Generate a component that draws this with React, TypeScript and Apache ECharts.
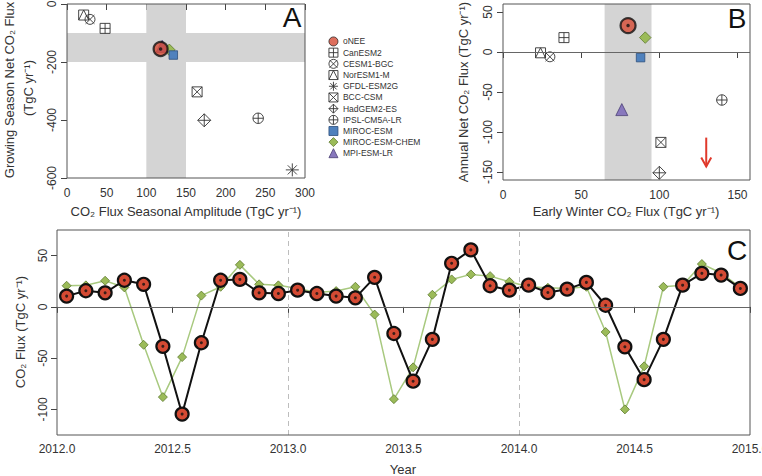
import React, { useEffect, useRef } from 'react';
import * as echarts from 'echarts';

// ---------------- DATA ----------------
const modelNames = ['CanESM2', 'CESM1-BGC', 'NorESM1-M', 'GFDL-ESM2G', 'BCC-CSM', 'HadGEM2-ES', 'IPSL-CM5A-LR', 'MIROC-ESM', 'MIROC-ESM-CHEM', 'MPI-ESM-LR'];
// Panel A
const seasonalAmplitude = [48, 29, 21, 284, 164, 173, 241, 134, 129, 120];
const growingSeasonNet = [-84, -53, -38, -572, -303, -401, -394, -176, -158, -146];
const oneeAmplitude = 118;
const oneeGrowingNet = -155;
const bandA_x = [100, 150];
const bandA_y = [-200, -100];
// Panel B
const earlyWinter: (number | null)[] = [39, 30, 24, null, 101, 100, 140, 88, 91, 76];
const annualNet: (number | null)[] = [18, -6, -1, null, -113, -151, -60, -7, 18, -72];
const oneeEarlyWinter = 80;
const oneeAnnualNet = 33;
const bandB_x = [65, 95];
const gfdlOffscaleArrow = [130, -107, -143]; // x, y from, y to
// Panel C
const cMonths = [
  '2012-01', '2012-02', '2012-03', '2012-04', '2012-05', '2012-06', '2012-07', '2012-08', '2012-09', '2012-10', '2012-11', '2012-12',
  '2013-01', '2013-02', '2013-03', '2013-04', '2013-05', '2013-06', '2013-07', '2013-08', '2013-09', '2013-10', '2013-11', '2013-12',
  '2014-01', '2014-02', '2014-03', '2014-04', '2014-05', '2014-06', '2014-07', '2014-08', '2014-09', '2014-10', '2014-11', '2014-12',
];
const cOnee = [10.5, 15.7, 13.7, 26, 22, -38.5, -104.6, -35, 26, 26.8, 13.7, 13, 16.3, 13, 10.5, 8.8, 28.8, -26, -72.5, -31.7, 42.5, 55.6, 20.6, 16.3, 21.2, 14, 17.3, 23.9, 1.6, -39, -71, -31.7, 21.2, 32.7, 31, 18];
const cChem = [20.6, 21, 25.5, 19, -37, -88, -49, 11, 19.6, 41, 22, 21, 18, 14, 15.4, 19.6, -7.5, -90, -59, 11.8, 26.8, 31.7, 30, 24.5, 19.6, 18.6, 18, 19.6, -24.5, -100, -58, 19.6, 21.2, 41.8, 33, 19];
const cYearDividers = [2013, 2014];
// ticks
const aXTicks = [0, 50, 100, 150, 200, 250, 300];
const aYTicks = [-600, -400, -200, 0];
const bXTicks = [0, 50, 100, 150];
const bYTicks = [-150, -100, -50, 0, 50];
const cXTicks = [2012, 2012.5, 2013, 2013.5, 2014, 2014.5, 2015];
const cYTicks = [-100, -50, 0, 50];
const legendNames = ['oNEE', ...modelNames];

// ---------------- STYLE ----------------
const FONT = '"Liberation Sans", Arial, Helvetica, sans-serif';
const RED = '#d44a33';
const OPEN = 'rgba(0,0,0,0)';
const INK = '#333';
const P = {
  squarePlus: 'path://M0,0L10,0L10,10L0,10Z M5,0L5,10 M0,5L10,5',
  circleX: 'path://M0,5A5,5 0 1,1 10,5A5,5 0 1,1 0,5Z M0.6,0.6L9.4,9.4 M9.4,0.6L0.6,9.4',
  squareTri: 'path://M0,0L10,0L10,10L0,10Z M0,10L5,0L10,10',
  asterisk: 'path://M5,0L5,10 M0,5L10,5 M1.5,1.5L8.5,8.5 M8.5,1.5L1.5,8.5',
  squareX: 'path://M0,0L10,0L10,10L0,10Z M0,0L10,10 M10,0L0,10',
  diamondPlus: 'path://M5,0L10,5L5,10L0,5Z M5,0L5,10 M0,5L10,5',
  circlePlus: 'path://M0,5A5,5 0 1,1 10,5A5,5 0 1,1 0,5Z M5,0L5,10 M0,5L10,5',
};
const modelStyle: Record<string, any> = {
  'CanESM2': { symbol: P.squarePlus, size: 10, color: OPEN, border: INK, bw: 0.9, z: 2 },
  'CESM1-BGC': { symbol: P.circleX, size: 10, color: OPEN, border: INK, bw: 0.9, z: 2 },
  'NorESM1-M': { symbol: P.squareTri, size: 10, color: OPEN, border: INK, bw: 0.9, z: 2 },
  'GFDL-ESM2G': { symbol: P.asterisk, size: 13, color: OPEN, border: INK, bw: 0.9, z: 2 },
  'BCC-CSM': { symbol: P.squareX, size: 10, color: OPEN, border: INK, bw: 0.9, z: 2 },
  'HadGEM2-ES': { symbol: P.diamondPlus, size: 13, color: OPEN, border: INK, bw: 0.9, z: 2 },
  'IPSL-CM5A-LR': { symbol: P.circlePlus, size: 10.5, color: OPEN, border: INK, bw: 0.9, z: 2 },
  'MIROC-ESM': { symbol: 'rect', size: 8.5, color: '#4f81bd', border: '#2d4f7c', bw: 0.8, z: 3 },
  'MIROC-ESM-CHEM': { symbol: 'diamond', size: 11.5, color: '#9bbb59', border: '#5e7a2e', bw: 0.8, z: 2 },
  'MPI-ESM-LR': { symbol: 'triangle', size: 12, color: '#8878bd', border: '#4a3f73', bw: 0.8, z: 2 },
};

const gA = { left: 67, top: 4, width: 238, height: 174 };
const gB = { left: 503, top: 4, width: 247, height: 176 };
const gC = { left: 57, top: 230, width: 693, height: 205 };

const toYear = (s: string) => {
  const [y, m] = s.split('-').map(Number);
  return y + (m - 0.5) / 12;
};

function axis(gridIndex: number, min: number, max: number, ticks: number[], isY: boolean, margin: number, fmt?: (v: number) => string) {
  return {
    type: 'value', gridIndex, min, max,
    axisLine: { show: false },
    splitLine: { show: false },
    axisTick: { show: true, length: 6, lineStyle: { color: '#444', width: 1 }, customValues: ticks },
    axisLabel: {
      customValues: ticks, margin, fontSize: 12, color: INK, fontFamily: FONT,
      rotate: isY ? 90 : 0,
      formatter: fmt ? (v: number) => fmt(v) : (v: number) => String(v),
      showMinLabel: true, showMaxLabel: true,
    },
  };
}

function buildOption() {
  const series: any[] = [];
  // Panel A bands
  series.push({
    type: 'scatter', name: 'bandA', xAxisIndex: 0, yAxisIndex: 0, data: [], z: 1, silent: true,
    markArea: {
      silent: true, itemStyle: { color: '#d4d4d4' },
      data: [[{ xAxis: bandA_x[0] }, { xAxis: bandA_x[1] }], [{ yAxis: bandA_y[0] }, { yAxis: bandA_y[1] }]],
    },
  });
  // Panel B band + zero line
  series.push({
    type: 'scatter', name: 'bandB', xAxisIndex: 1, yAxisIndex: 1, data: [], z: 1, silent: true,
    markArea: { silent: true, itemStyle: { color: '#d4d4d4' }, data: [[{ xAxis: bandB_x[0] }, { xAxis: bandB_x[1] }]] },
    markLine: { silent: true, symbol: 'none', label: { show: false }, lineStyle: { color: '#666', width: 1.2, type: 'solid' }, data: [{ yAxis: 0 }] },
  });
  // Panel C zero + dividers
  series.push({
    type: 'scatter', name: 'linesC', xAxisIndex: 2, yAxisIndex: 2, data: [], z: 1, silent: true,
    markLine: {
      silent: true, symbol: 'none', label: { show: false },
      data: [
        { yAxis: 0, lineStyle: { color: '#666', width: 1.2, type: 'solid' } },
        ...cYearDividers.map((y) => ({ xAxis: y, lineStyle: { color: '#bdbdbd', width: 1, type: [5, 4] } })),
      ],
    },
  });
  // models A and B
  modelNames.forEach((name, i) => {
    const st = modelStyle[name];
    const common = {
      type: 'scatter', name, symbol: st.symbol, symbolSize: st.size, z: st.z,
      itemStyle: { color: st.color, borderColor: st.border, borderWidth: st.bw, opacity: 1 },
      emphasis: { disabled: true },
    };
    series.push({ ...common, xAxisIndex: 0, yAxisIndex: 0, data: [[seasonalAmplitude[i], growingSeasonNet[i]]] });
    const bx = earlyWinter[i], by = annualNet[i];
    series.push({ ...common, xAxisIndex: 1, yAxisIndex: 1, data: bx != null && by != null ? [[bx, by]] : [] });
  });
  // oNEE A, B
  const oneeStyle = {
    type: 'scatter', name: 'oNEE', symbol: 'circle', symbolSize: 14, z: 5,
    itemStyle: { color: RED, borderColor: '#111', borderWidth: 2.2 }, emphasis: { disabled: true },
  };
  const dotStyle = { type: 'scatter', name: 'oNEE center', symbol: 'circle', symbolSize: 3.5, z: 6, itemStyle: { color: '#111' }, silent: true };
  series.push({ ...oneeStyle, xAxisIndex: 0, yAxisIndex: 0, data: [[oneeAmplitude, oneeGrowingNet]] });
  series.push({ ...dotStyle, xAxisIndex: 0, yAxisIndex: 0, data: [[oneeAmplitude, oneeGrowingNet]] });
  series.push({ ...oneeStyle, xAxisIndex: 1, yAxisIndex: 1, symbolSize: 15, data: [[oneeEarlyWinter, oneeAnnualNet]] });
  series.push({ ...dotStyle, xAxisIndex: 1, yAxisIndex: 1, data: [[oneeEarlyWinter, oneeAnnualNet]] });
  // GFDL off-scale arrow in B
  series.push({
    type: 'custom', name: 'gfdlArrow', xAxisIndex: 1, yAxisIndex: 1, z: 4, silent: true,
    data: [gfdlOffscaleArrow],
    renderItem: (_p: any, api: any) => {
      const a = api.coord([api.value(0), api.value(1)]);
      const b = api.coord([api.value(0), api.value(2)]);
      const col = '#e0392b';
      return {
        type: 'group',
        children: [
          { type: 'line', shape: { x1: a[0], y1: a[1], x2: b[0], y2: b[1] }, style: { stroke: col, lineWidth: 2 } },
          { type: 'polyline', shape: { points: [[b[0] - 5, b[1] - 9], [b[0], b[1]], [b[0] + 5, b[1] - 9]] }, style: { stroke: col, lineWidth: 2, fill: null } },
        ],
      };
    },
  });
  // Panel C
  const cx = cMonths.map(toYear);
  series.push({
    type: 'line', name: 'MIROC-ESM-CHEM', xAxisIndex: 2, yAxisIndex: 2, z: 2,
    data: cx.map((x, i) => [x, cChem[i]]),
    symbol: 'diamond', symbolSize: 9, showAllSymbol: true,
    lineStyle: { color: '#a8c97f', width: 1.5 },
    itemStyle: { color: '#9bbb59', borderColor: '#5e7a2e', borderWidth: 0.8 },
    emphasis: { disabled: true },
  });
  series.push({
    type: 'line', name: 'oNEE', xAxisIndex: 2, yAxisIndex: 2, z: 3,
    data: cx.map((x, i) => [x, cOnee[i]]),
    symbol: 'circle', symbolSize: 13, showAllSymbol: true,
    lineStyle: { color: '#111', width: 2 },
    itemStyle: { color: RED, borderColor: '#111', borderWidth: 2.2 },
    emphasis: { disabled: true },
  });
  series.push({ ...dotStyle, xAxisIndex: 2, yAxisIndex: 2, symbolSize: 3, data: cx.map((x, i) => [x, cOnee[i]]) });

  const frame = (g: any) => ({
    type: 'rect', z: 100, silent: true,
    shape: { x: g.left, y: g.top, width: g.width, height: g.height },
    style: { fill: null, stroke: '#555', lineWidth: 1 },
  });
  const txt = (text: string, x: number, y: number, opts: any = {}) => ({
    type: 'text', x, y, z: 100, silent: true, rotation: opts.rot || 0,
    style: { text, fontSize: opts.size || 13, fontFamily: FONT, fill: opts.fill || INK, align: 'center', verticalAlign: 'middle' },
  });

  return {
    animation: false,
    backgroundColor: '#fff',
    grid: [
      { ...gA, containLabel: false, outerBoundsMode: 'none' },
      { ...gB, containLabel: false, outerBoundsMode: 'none' },
      { ...gC, containLabel: false, outerBoundsMode: 'none' },
    ],
    xAxis: [
      axis(0, 0, 300, aXTicks, false, 9),
      axis(1, 0, 158, bXTicks, false, 9),
      axis(2, 2012, 2015, cXTicks, false, 8, (v) => v.toFixed(1)),
    ],
    yAxis: [
      axis(0, -600, 0, aYTicks, true, 9),
      axis(1, -160, 60, bYTicks, true, 9),
      axis(2, -125, 75, cYTicks, true, 8),
    ],
    legend: {
      orient: 'vertical', left: 328.5, top: 36.5, padding: 0,
      itemWidth: 9, itemHeight: 9, itemGap: 1.3, selectedMode: false,
      itemStyle: { borderWidth: 0.9 },
      textStyle: { fontSize: 8.5, color: INK, fontFamily: FONT },
      data: legendNames.map((n) => (n === 'oNEE' ? { name: n, itemStyle: { borderWidth: 0.9 } } : { name: n, itemStyle: { borderWidth: modelStyle[n].bw } })),
    },
    graphic: [
      frame(gA), frame(gB), frame(gC),
      txt('Growing Season Net CO\u2082 Flux', 9, 90, { rot: Math.PI / 2 }),
      txt('(TgC yr\u207B\u00B9)', 28, 88, { rot: Math.PI / 2 }),
      txt('CO\u2082 Flux Seasonal Amplitude (TgC yr\u207B\u00B9)', 186, 211),
      txt('Annual Net CO\u2082 Flux (TgC yr\u207B\u00B9)', 463, 92, { rot: Math.PI / 2 }),
      txt('Early Winter CO\u2082 Flux (TgC yr\u207B\u00B9)', 626, 211),
      txt('CO\u2082 Flux (TgC yr\u207B\u00B9)', 20, 332, { rot: Math.PI / 2 }),
      txt('Year', 403, 469),
      txt('A', 292, 17, { size: 28, fill: '#111' }),
      txt('B', 737, 18, { size: 28, fill: '#111' }),
      txt('C', 737, 250, { size: 28, fill: '#111' }),
    ],
    series,
  };
}

export default function App() {
  const ref = useRef<HTMLDivElement>(null);
  useEffect(() => {
    const chart = echarts.init(ref.current!, null, { renderer: 'svg' });
    chart.setOption(buildOption() as any);
    return () => chart.dispose();
  }, []);
  return <div ref={ref} style={{ position: 'absolute', left: 0, top: 0, width: 762, height: 476 }} />;
}
